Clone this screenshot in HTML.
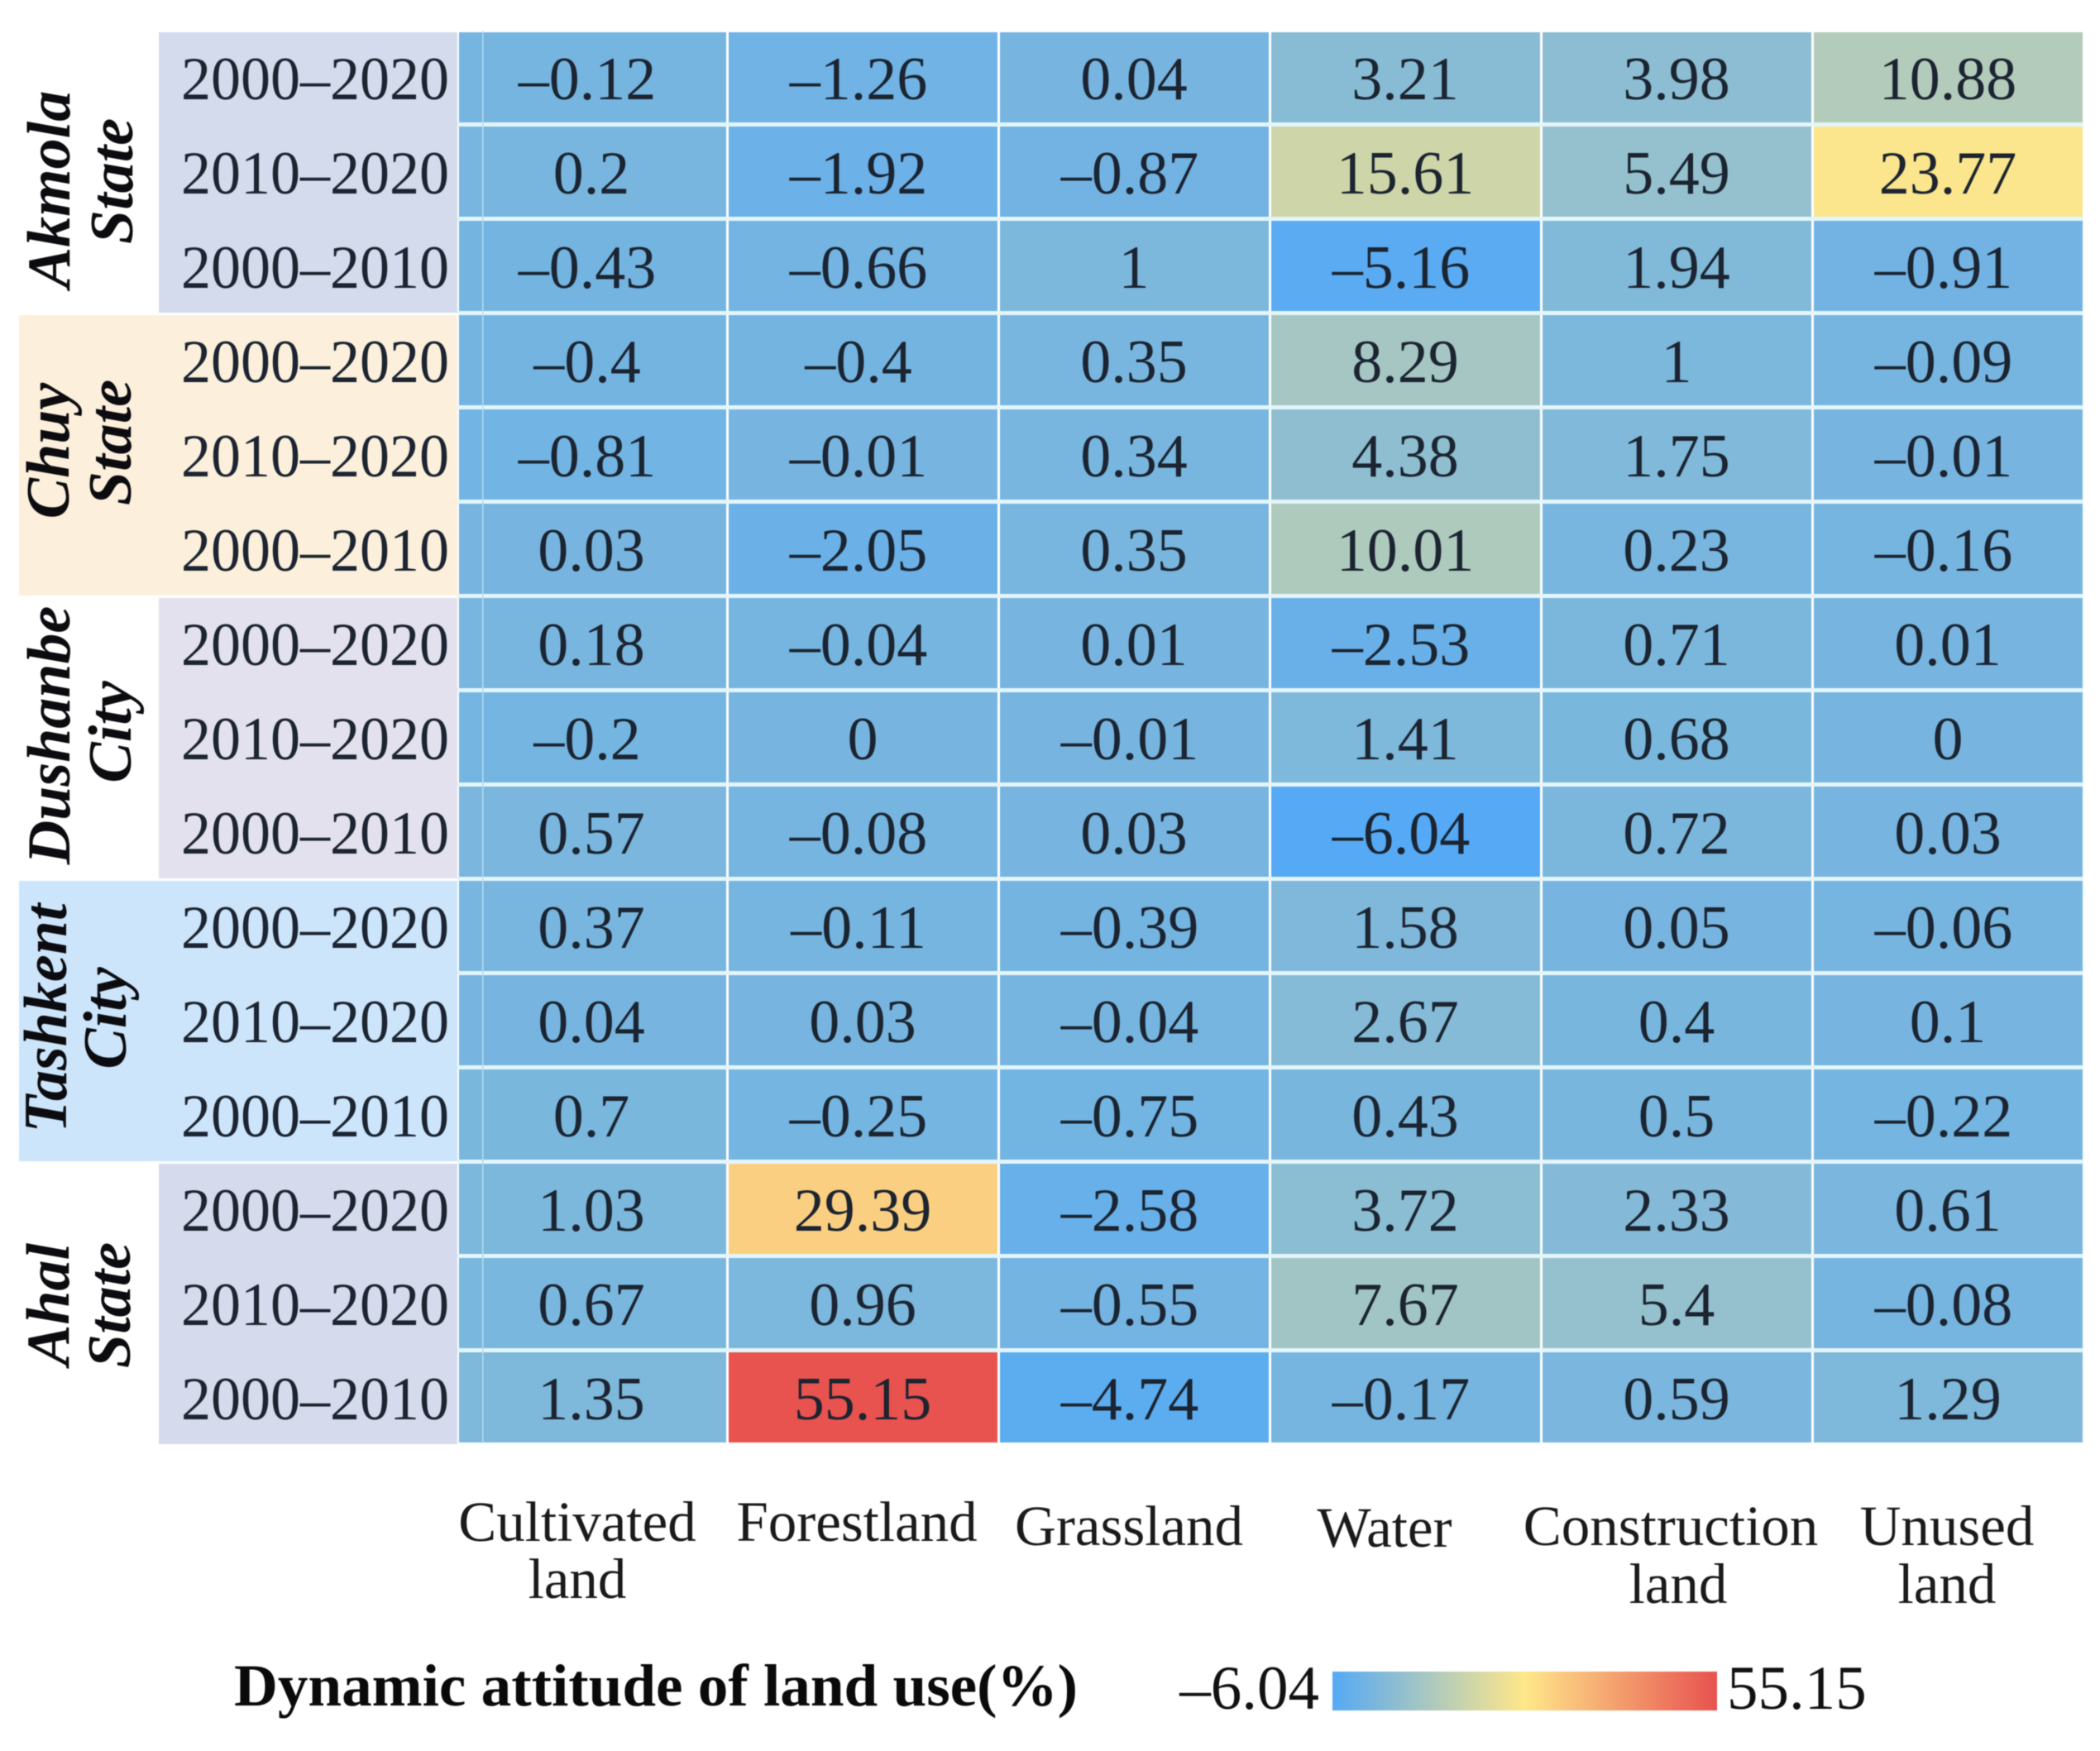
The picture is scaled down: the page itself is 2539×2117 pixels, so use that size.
<!DOCTYPE html>
<html lang="en">
<head>
<meta charset="utf-8">
<title>Dynamic attitude of land use</title>
<style>
html,body{margin:0;padding:0;background:#fff;width:2539px;height:2117px;overflow:hidden}
svg{display:block;filter:blur(0.6px)}
text{font-family:"Liberation Serif",serif;fill:#1b2430}
.state{font-weight:bold;font-style:italic;font-size:74px;fill:#0c0c10;text-anchor:middle}
.col{font-size:69px;fill:#1a1a1a;text-anchor:middle}
</style>
</head>
<body>
<svg id="chart" xmlns="http://www.w3.org/2000/svg" width="2539" height="2117" viewBox="0 0 2539 2117">
  <rect x="0" y="0" width="2539" height="2117" fill="#fff"/>
  <g id="panels"></g>
  <g id="cells"></g>
  <g id="values"></g>
  <g id="periodLabels"></g>

  <text class="state" transform="translate(84 229) rotate(-90)">Akmola</text>
  <text class="state" transform="translate(160 219) rotate(-90)">State</text>
  <text class="state" transform="translate(83 545) rotate(-90)">Chuy</text>
  <text class="state" transform="translate(158 535) rotate(-90)">State</text>
  <text class="state" transform="translate(84 889) rotate(-90)">Dushanbe</text>
  <text class="state" transform="translate(158 885) rotate(-90)">City</text>
  <text class="state" transform="translate(80 1231) rotate(-90)">Tashkent</text>
  <text class="state" transform="translate(152 1231) rotate(-90)">City</text>
  <text class="state" transform="translate(83 1577) rotate(-90)">Ahal</text>
  <text class="state" transform="translate(157 1578) rotate(-90)">State</text>

  <text class="col" x="698" y="1863">Cultivated</text>
  <text class="col" x="698" y="1932">land</text>
  <text class="col" x="1036" y="1863">Forestland</text>
  <text class="col" x="1365" y="1868">Grassland</text>
  <text class="col" x="1674" y="1870">Water</text>
  <text class="col" x="2020" y="1868">Construction</text>
  <text class="col" x="2029" y="1938">land</text>
  <text class="col" x="2354" y="1868">Unused</text>
  <text class="col" x="2354" y="1938">land</text>

  <text x="283" y="2062" font-size="72" font-weight="bold" textLength="1020" lengthAdjust="spacingAndGlyphs" style="fill:#0a0a0a">Dynamic attitude of land use(%)</text>
  <defs>
    <linearGradient id="ramp" x1="0" x2="1" y1="0" y2="0">
      <stop offset="0" stop-color="#55a9f5"/>
      <stop offset="0.5" stop-color="#ffe78a"/>
      <stop offset="1" stop-color="#e8524f"/>
    </linearGradient>
  </defs>
  <rect x="1611" y="2021" width="465" height="47" fill="url(#ramp)"/>
  <text id="legendMin" x="1595" y="2066" font-size="75" text-anchor="end" style="fill:#111"></text>
  <text id="legendMax" x="2088" y="2066" font-size="75" style="fill:#111"></text>
</svg>
<script>
const landUseTypes = ["Cultivated land", "Forestland", "Grassland", "Water", "Construction land", "Unused land"];
const periods = ["2000–2020", "2010–2020", "2000–2010"];
const regions = ["Akmola State", "Chuy State", "Dushanbe City", "Tashkent City", "Ahal State"];
const regionFills = ["#d3dbec", "#fcf0dc", "#e4e1ee", "#cce5fb", "#d5dbec"];

const akmolaValues = [
  [-0.12, -1.26, 0.04, 3.21, 3.98, 10.88],
  [0.2, -1.92, -0.87, 15.61, 5.49, 23.77],
  [-0.43, -0.66, 1, -5.16, 1.94, -0.91]
];
const chuyValues = [
  [-0.4, -0.4, 0.35, 8.29, 1, -0.09],
  [-0.81, -0.01, 0.34, 4.38, 1.75, -0.01],
  [0.03, -2.05, 0.35, 10.01, 0.23, -0.16]
];
const dushanbeValues = [
  [0.18, -0.04, 0.01, -2.53, 0.71, 0.01],
  [-0.2, 0, -0.01, 1.41, 0.68, 0],
  [0.57, -0.08, 0.03, -6.04, 0.72, 0.03]
];
const tashkentValues = [
  [0.37, -0.11, -0.39, 1.58, 0.05, -0.06],
  [0.04, 0.03, -0.04, 2.67, 0.4, 0.1],
  [0.7, -0.25, -0.75, 0.43, 0.5, -0.22]
];
const ahalValues = [
  [1.03, 29.39, -2.58, 3.72, 2.33, 0.61],
  [0.67, 0.96, -0.55, 7.67, 5.4, -0.08],
  [1.35, 55.15, -4.74, -0.17, 0.59, 1.29]
];

const SVG_NS = "http://www.w3.org/2000/svg";
const regionValues = [akmolaValues, chuyValues, dushanbeValues, tashkentValues, ahalValues];
const flat = regionValues.flat(2);
const vMin = Math.min(...flat);
const vMax = Math.max(...flat);

const panelRight = 553, plotLeft = 551, colPitch = 328, plotTop = 37, rowPitch = 114;
function xCol(c) { return plotLeft + c * colPitch; }
function yRow(r) { return plotTop + r * rowPitch; }

const rampStops = [[85, 169, 245], [255, 231, 138], [232, 82, 79]];
function colorFor(v) {
  const t = (v - vMin) / (vMax - vMin || 1);
  const s = t < 0.5 ? t * 2 : (t - 0.5) * 2;
  const a = t < 0.5 ? rampStops[0] : rampStops[1];
  const b = t < 0.5 ? rampStops[1] : rampStops[2];
  return "rgb(" + a.map((ch, i) => Math.round(ch + (b[i] - ch) * s)).join(",") + ")";
}
function fmt(v) { return String(v).replace("-", "–"); }
function make(tag, attrs) {
  const el = document.createElementNS(SVG_NS, tag);
  Object.keys(attrs).forEach(k => el.setAttribute(k, attrs[k]));
  return el;
}

const panels = document.getElementById("panels");
const cells = document.getElementById("cells");
const valuesG = document.getElementById("values");
const periodG = document.getElementById("periodLabels");
const widePanel = [false, true, false, true, false];

regions.forEach((region, ri) => {
  const px = widePanel[ri] ? 23 : 192;
  const panel = make("rect", {x: px, y: yRow(ri * 3) + 2, width: panelRight - px, height: rowPitch * 3 - 3, fill: regionFills[ri]});
  
  
  panels.appendChild(panel);

  regionValues[ri].forEach((row, pi) => {
    const r = ri * 3 + pi;
    const label = make("text", {x: 219, y: yRow(r) + rowPitch / 2 + 26, "font-size": 74, textLength: 324, lengthAdjust: "spacingAndGlyphs"});
    label.textContent = periods[pi];
    
    
    periodG.appendChild(label);

    row.forEach((v, c) => {
      const cx = c === 0 ? panelRight + 2 : xCol(c) + 2;
      const cell = make("rect", {x: cx, y: yRow(r) + 2, width: xCol(c + 1) - 1 - cx, height: rowPitch - 5, fill: colorFor(v)});
      
      
      cells.appendChild(cell);

      const txt = make("text", {x: xCol(c) + colPitch / 2 + (v < 0 ? -5 : 0), y: yRow(r) + rowPitch / 2 + 26, "font-size": 74, "text-anchor": "middle"});
      txt.textContent = fmt(v);
      
      
      valuesG.appendChild(txt);
    });
  });
});

for (let r = 1; r < 15; r++) {
  const hl = make("rect", {x: panelRight, y: yRow(r) - 3, width: xCol(6) - panelRight, height: 5, fill: "#e4f6fb"});
  
  
  cells.appendChild(hl);
}
const innerLine = make("rect", {x: 583, y: plotTop, width: 1.5, height: rowPitch * 15 - 2, fill: "#b6dcee"});


cells.appendChild(innerLine);

document.getElementById("legendMin").textContent = fmt(vMin);
document.getElementById("legendMax").textContent = fmt(vMax);
</script>
</body>
</html>
